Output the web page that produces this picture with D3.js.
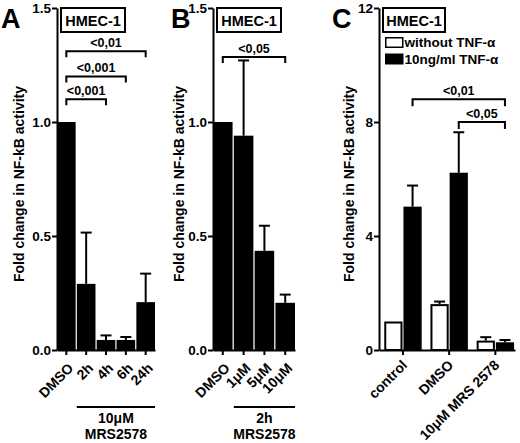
<!DOCTYPE html>
<html lang="en">
<head>
    <meta charset="UTF-8">
    <title>NF-kB activity HMEC-1</title>
    <script src="https://d3js.org/d3.v7.min.js"></script>
    <style>
        body {
            margin: 0;
            padding: 0;
            background-color: white;
        }
        svg {
            display: block;
            font-family: 'Liberation Sans', Arial, sans-serif;
            font-weight: bold;
        }
        .axis path, .axis line {
            stroke: black;
            stroke-width: 2;
        }
        .axis text {
            font-size: 13.5px;
            font-weight: bold;
            font-family: 'Liberation Sans', Arial, sans-serif;
        }
        .xaxis text {
            font-size: 14px;
        }
        .panel-letter {
            font-size: 27px;
            font-weight: bold;
        }
        .ylab {
            font-size: 14px;
            font-weight: bold;
        }
        .sig {
            font-size: 12.5px;
            font-weight: bold;
        }
    </style>
</head>
<body>
    <svg width="520" height="443"></svg>

    <script>
        // Panel A: 10uM MRS2578, time course
        const catsA = ["DMSO", "2h", "4h", "6h", "24h"];
        const meanA = [1.0, 0.29, 0.044, 0.044, 0.21];
        const errA = [0, 0.225, 0.02, 0.013, 0.125];
        const sigA = [
            { from: "DMSO", to: "4h", label: "<0,001", level: 1.1 },
            { from: "DMSO", to: "6h", label: "<0,001", level: 1.2 },
            { from: "DMSO", to: "24h", label: "<0,01", level: 1.31 }
        ];

        // Panel B: 2h MRS2578, dose
        const catsB = ["DMSO", "1μM", "5μM", "10μM"];
        const meanB = [1.0, 0.94, 0.435, 0.207];
        const errB = [0, 0.33, 0.11, 0.036];
        const sigB = [
            { from: "DMSO", to: "10μM", label: "<0,05", level: 1.285 }
        ];

        // Panel C: with / without TNF-alpha
        const catsC = ["control", "DMSO", "10μM MRS 2578"];
        const seriesC = ["without TNF-α", "10ng/ml TNF-α"];
        const withoutC = [1.0, 1.61, 0.33];
        const errWithoutC = [0, 0.09, 0.12];
        const withC = [5.03, 6.22, 0.27];
        const errWithC = [0.74, 1.42, 0.08];
        const sigC = [
            { from: "control", to: "10μM MRS 2578", s1: 1, s2: 1, label: "<0,01", level: 8.8 },
            { from: "DMSO", to: "10μM MRS 2578", s1: 1, s2: 1, label: "<0,05", level: 8.0 }
        ];

        const svg = d3.select("svg");
        const yTop = 8, yBottom = 350;
        const yLabel = "Fold change in NF-kB activity";

        function drawHmec(x, w) {
            svg.append("rect")
               .attr("x", x).attr("y", 8)
               .attr("width", w).attr("height", 24)
               .attr("fill", "white")
               .attr("stroke", "black")
               .attr("stroke-width", 2);
            svg.append("text")
               .attr("x", x + w / 2).attr("y", 25.5)
               .attr("text-anchor", "middle")
               .style("font-size", "14.5px")
               .text("HMEC-1");
        }

        function drawBracket(x1, x2, yPos, label, tick) {
            svg.append("path")
               .attr("d", "M" + x1 + "," + (yPos + tick) + "V" + yPos + "H" + x2 + "V" + (yPos + tick))
               .attr("fill", "none")
               .attr("stroke", "black")
               .attr("stroke-width", 2);
            svg.append("text")
               .attr("class", "sig")
               .attr("x", (x1 + x2) / 2)
               .attr("y", yPos - 4)
               .attr("text-anchor", "middle")
               .text(label);
        }

        function errBar(cx, top, bottom, capW) {
            svg.append("line")
               .attr("x1", cx).attr("x2", cx)
               .attr("y1", top).attr("y2", bottom)
               .attr("stroke", "black").attr("stroke-width", 2);
            svg.append("line")
               .attr("x1", cx - capW / 2).attr("x2", cx + capW / 2)
               .attr("y1", top).attr("y2", top)
               .attr("stroke", "black").attr("stroke-width", 2);
        }

        function rotateLabels(g, dx, dy) {
            g.selectAll(".tick text")
             .attr("x", 0).attr("y", 0).attr("dy", 0)
             .attr("transform", "translate(" + dx + "," + dy + ") rotate(-45)")
             .style("text-anchor", "end");
        }

        // Simple single-series panel (A and B)
        function simplePanel(opt) {
            const x = d3.scaleBand()
                        .domain(opt.cats)
                        .range([opt.x0, opt.x1])
                        .paddingInner(0.06)
                        .paddingOuter(0);
            const y = d3.scaleLinear()
                        .domain([0, 1.5])
                        .range([yBottom, yTop]);

            // bars
            svg.selectAll(".bar-" + opt.id)
               .data(opt.cats)
               .enter()
               .append("rect")
               .attr("class", "bar-" + opt.id)
               .attr("x", function(d) { return x(d); })
               .attr("y", function(d, i) { return y(opt.mean[i]); })
               .attr("width", x.bandwidth())
               .attr("height", function(d, i) { return yBottom - y(opt.mean[i]); })
               .attr("fill", "black");

            opt.cats.forEach(function(d, i) {
                if (opt.err[i] > 0) {
                    errBar(x(d) + x.bandwidth() / 2, y(opt.mean[i] + opt.err[i]), y(opt.mean[i]), 11);
                }
            });

            const gy = svg.append("g")
               .attr("class", "axis")
               .attr("transform", "translate(" + opt.x0 + ",0)")
               .call(d3.axisLeft(y).tickValues([0, 0.5, 1.0, 1.5]).tickSize(5).tickSizeOuter(0).tickFormat(d3.format(".1f")));
            gy.selectAll(".tick text").attr("x", -6);

            const gx = svg.append("g")
               .attr("class", "axis xaxis")
               .attr("transform", "translate(0," + yBottom + ")")
               .call(d3.axisBottom(x).tickSize(5).tickSizeOuter(0));
            rotateLabels(gx, 8, 19);

            opt.sig.forEach(function(s) {
                drawBracket(x(s.from) + x.bandwidth() / 2, x(s.to) + x.bandwidth() / 2, y(s.level), s.label, 6);
            });

            // treatment group label
            const first = opt.cats[1];
            const lx1 = x(first), lx2 = opt.x1;
            svg.append("line")
               .attr("x1", lx1).attr("x2", lx2)
               .attr("y1", opt.lineY).attr("y2", opt.lineY)
               .attr("stroke", "black").attr("stroke-width", 2);
            opt.groupText.forEach(function(t, i) {
                svg.append("text")
                   .attr("x", (lx1 + lx2) / 2)
                   .attr("y", opt.lineY + 16 + i * 16)
                   .attr("text-anchor", "middle")
                   .style("font-size", "14px")
                   .text(t);
            });

            svg.append("text")
               .attr("class", "ylab")
               .attr("transform", "translate(" + opt.labX + ",184) rotate(-90)")
               .attr("text-anchor", "middle")
               .text(yLabel);

            svg.append("text")
               .attr("class", "panel-letter")
               .attr("x", opt.letterX).attr("y", 28)
               .text(opt.id);

            drawHmec(opt.x0 + 4, 64);
        }

        simplePanel({
            id: "A", cats: catsA, mean: meanA, err: errA, sig: sigA,
            x0: 57, x1: 155, lineY: 407, groupText: ["10μM", "MRS2578"],
            labX: 24, letterX: 1
        });

        simplePanel({
            id: "B", cats: catsB, mean: meanB, err: errB, sig: sigB,
            x0: 213, x1: 295, lineY: 407, groupText: ["2h", "MRS2578"],
            labX: 184, letterX: 171
        });

        // Panel C: grouped bars
        const xC = d3.scaleBand()
                     .domain(catsC)
                     .range([379, 515])
                     .paddingInner(0.19)
                     .paddingOuter(0.067)
                     .align(0.85);
        const xCi = d3.scaleBand()
                      .domain(seriesC)
                      .range([0, xC.bandwidth()])
                      .paddingInner(0.05);
        const yC = d3.scaleLinear()
                     .domain([0, 12])
                     .range([yBottom, yTop]);

        const cData = catsC.map(function(c, i) {
            return [
                { cat: c, s: seriesC[0], v: withoutC[i], e: errWithoutC[i] },
                { cat: c, s: seriesC[1], v: withC[i], e: errWithC[i] }
            ];
        });

        cData.forEach(function(pair) {
            pair.forEach(function(d, j) {
                const bx = xC(d.cat) + xCi(d.s);
                svg.append("rect")
                   .attr("x", j === 0 ? bx + 1 : bx)
                   .attr("y", j === 0 ? yC(d.v) + 1 : yC(d.v))
                   .attr("width", j === 0 ? xCi.bandwidth() - 2 : xCi.bandwidth())
                   .attr("height", j === 0 ? yBottom - yC(d.v) - 1 : yBottom - yC(d.v))
                   .attr("fill", j === 0 ? "white" : "black")
                   .attr("stroke", "black")
                   .attr("stroke-width", j === 0 ? 2 : 0);
                if (d.e > 0) {
                    errBar(bx + xCi.bandwidth() / 2, yC(d.v + d.e), yC(d.v), 11);
                }
            });
        });

        const gyC = svg.append("g")
           .attr("class", "axis")
           .attr("transform", "translate(379,0)")
           .call(d3.axisLeft(yC).tickValues([0, 4, 8, 12]).tickSize(5).tickSizeOuter(0));
        gyC.selectAll(".tick text").attr("x", -6);

        const gxC = svg.append("g")
           .attr("class", "axis xaxis")
           .attr("transform", "translate(0," + yBottom + ")")
           .call(d3.axisBottom(xC).tickSize(5).tickSizeOuter(0));
        rotateLabels(gxC, 5, 16);

        sigC.forEach(function(s) {
            const x1 = xC(s.from) + xCi(seriesC[s.s1]) + xCi.bandwidth() / 2;
            const x2 = xC(s.to) + xCi(seriesC[s.s2]) + xCi.bandwidth() / 2;
            drawBracket(x1, x2, yC(s.level), s.label, 7);
        });

        svg.append("text")
           .attr("class", "ylab")
           .attr("transform", "translate(354,184) rotate(-90)")
           .attr("text-anchor", "middle")
           .text(yLabel);

        svg.append("text")
           .attr("class", "panel-letter")
           .attr("x", 332).attr("y", 28)
           .text("C");

        drawHmec(383, 62);

        // Legend
        const legend = svg.append("g").attr("transform", "translate(385,37)");
        seriesC.forEach(function(s, i) {
            legend.append("rect")
                  .attr("x", 0.75).attr("y", i * 16.5 + 0.75)
                  .attr("width", 17).attr("height", 9.5)
                  .attr("fill", i === 0 ? "white" : "black")
                  .attr("stroke", "black")
                  .attr("stroke-width", 1.5);
            legend.append("text")
                  .attr("x", 19.5).attr("y", i * 16.5 + 10)
                  .style("font-size", "13.5px")
                  .text(s);
        });
    </script>
</body>
</html>
